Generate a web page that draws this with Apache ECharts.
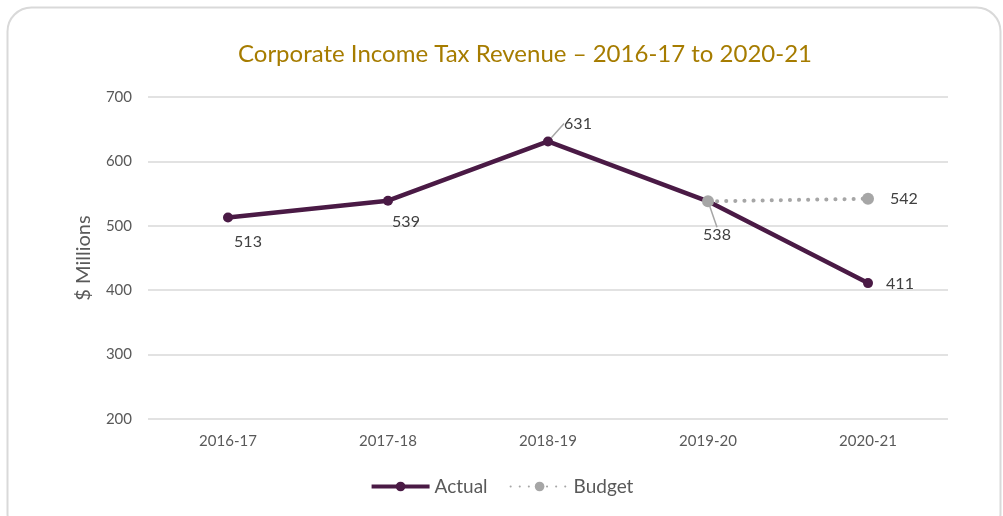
<!DOCTYPE html>
<html>
<head>
<meta charset="utf-8">
<script src="https://cdn.jsdelivr.net/npm/echarts@6/dist/echarts.min.js"></script>
<style>
  html, body { margin: 0; padding: 0; background: #ffffff; }
  #chart { width: 1003px; height: 516px; }
</style>
</head>
<body>
<div id="chart"></div>
<script>
// Fiscal years on the category axis
const years = ['2016-17', '2017-18', '2018-19', '2019-20', '2020-21'];
// Corporate income tax revenue, $ millions
const actual = [513, 539, 631, 538, 411];
const budget = [null, null, null, 538, 542];
// Value axis ticks
const yTicks = [200, 300, 400, 500, 600, 700];

const FONT = 'Lato, "Noto Sans", sans-serif';
const TEXT = '#595959';
const PURPLE = '#4A1A45';
const GREY = '#A6A6A6';

// Per-point label shifts (pixels) for the Actual series, and which get a leader line
const actualShift = [[20, 24], [18, 21], [30, -18], [9, 34], [32, 1]];
const leader = [false, false, true, true, false];

const chart = echarts.init(document.getElementById('chart'), null, { renderer: 'canvas' });

chart.setOption({
  backgroundColor: '#ffffff',
  animation: false,
  graphic: [{
    type: 'rect',
    left: 5, top: 5,
    shape: { width: 993, height: 530, r: 24 },
    style: { fill: 'none', stroke: '#d9d9d9', lineWidth: 2 },
    z: -1
  }],
  title: {
    text: 'Corporate Income Tax Revenue \u2013 2016-17 to 2020-21',
    left: 520, top: 37, textAlign: 'center',
    textStyle: { color: '#A67C00', fontFamily: FONT, fontSize: 24, fontWeight: 'normal' }
  },
  grid: { left: 148, right: 55, top: 97, bottom: 97 },
  legend: {
    bottom: 15, left: 'center',
    itemWidth: 58, itemHeight: 12, itemGap: 22,
    textStyle: { color: TEXT, fontFamily: FONT, fontSize: 19 },
    data: [
      { name: 'Actual', lineStyle: { width: 4 } },
      { name: 'Budget' }
    ]
  },
  xAxis: {
    type: 'category',
    data: years,
    boundaryGap: true,
    axisLine: { show: false },
    axisTick: { show: false },
    axisLabel: { color: TEXT, fontFamily: FONT, fontSize: 15, margin: 15 }
  },
  yAxis: {
    type: 'value',
    min: yTicks[0], max: yTicks[yTicks.length - 1], interval: 100,
    name: '$ Millions',
    nameLocation: 'middle', nameGap: 54, nameRotate: 90,
    nameTextStyle: { color: TEXT, fontFamily: FONT, fontSize: 20 },
    axisLine: { show: false },
    axisTick: { show: false },
    axisLabel: { color: TEXT, fontFamily: FONT, fontSize: 15, margin: 16 },
    splitLine: { lineStyle: { color: '#d9d9d9', width: 1.5 } }
  },
  series: [
    {
      name: 'Actual',
      type: 'line',
      data: actual.map(function (v, i) {
        return { value: v, labelLine: { show: leader[i] } };
      }),
      symbol: 'circle', symbolSize: 10,
      itemStyle: { color: PURPLE },
      lineStyle: { color: PURPLE, width: 4.5 },
      label: {
        show: true, position: 'inside',
        color: '#404040', fontFamily: FONT, fontSize: 16
      },
      labelLine: { show: true, lineStyle: { color: GREY, width: 1.5 } },
      labelLayout: function (p) {
        const s = actualShift[p.dataIndex];
        return { dx: s[0], dy: s[1] };
      },
      z: 2
    },
    {
      name: 'Budget',
      type: 'line',
      data: budget,
      symbol: 'circle', symbolSize: 12,
      itemStyle: { color: GREY },
      lineStyle: { color: GREY, width: 4, type: [0.1, 9], cap: 'round' },
      label: {
        show: true, position: 'right', distance: 16,
        color: '#404040', fontFamily: FONT, fontSize: 16,
        formatter: function (p) { return p.dataIndex === years.length - 1 ? p.value : ''; }
      },
      z: 3
    }
  ]
});
</script>
</body>
</html>
